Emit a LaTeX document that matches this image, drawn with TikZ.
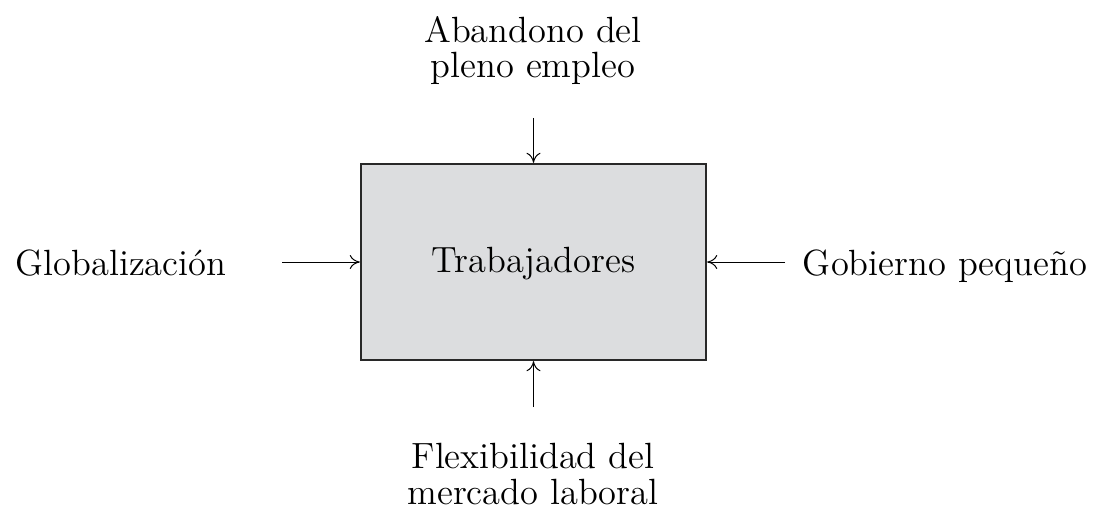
\documentclass[tikz,border=0pt]{standalone}
\usetikzlibrary{arrows.meta}
\definecolor{boxgray}{RGB}{220,221,223}
\definecolor{edgegray}{RGB}{40,40,40}
\begin{document}
\begin{tikzpicture}[x=0.5pt,y=-0.5pt,
  lbl/.style={font=\fontsize{12}{11.8}\selectfont, scale=1.52, inner sep=0pt, anchor=base, align=center},
  conn/.style={-{To[length=5pt,width=7pt]}, line width=0.5pt},
  mainbox/.style={draw=edgegray, line width=0.8pt, fill=boxgray, minimum width=113.49pt, minimum height=64.47pt,
    scale=1.52, inner sep=0pt, font=\fontsize{12}{12}\selectfont, text height=0.69em, text depth=0pt}]
\useasboundingbox (0,0) rectangle (1093,508);
\node[mainbox] (box) at (533.5,262) {Trabajadores};
\node[lbl] (top) at (533,78) {Abandono del\\pleno empleo};
\node[lbl] (bot) at (533,504) {Flexibilidad del\\mercado laboral};
\node[lbl] (left) at (121,275) {Globalización};
\node[lbl] (right) at (945,275) {Gobierno pequeño};
\coordinate (tA) at (533.5,118);
\coordinate (bA) at (533.5,407);
\coordinate (lA) at (282,262);
\coordinate (rA) at (785,262);
\draw[conn] (tA) -- (box.north);
\draw[conn] (bA) -- (box.south);
\draw[conn] (lA) -- (box.west);
\draw[conn] (rA) -- (box.east);
\end{tikzpicture}
\end{document}
